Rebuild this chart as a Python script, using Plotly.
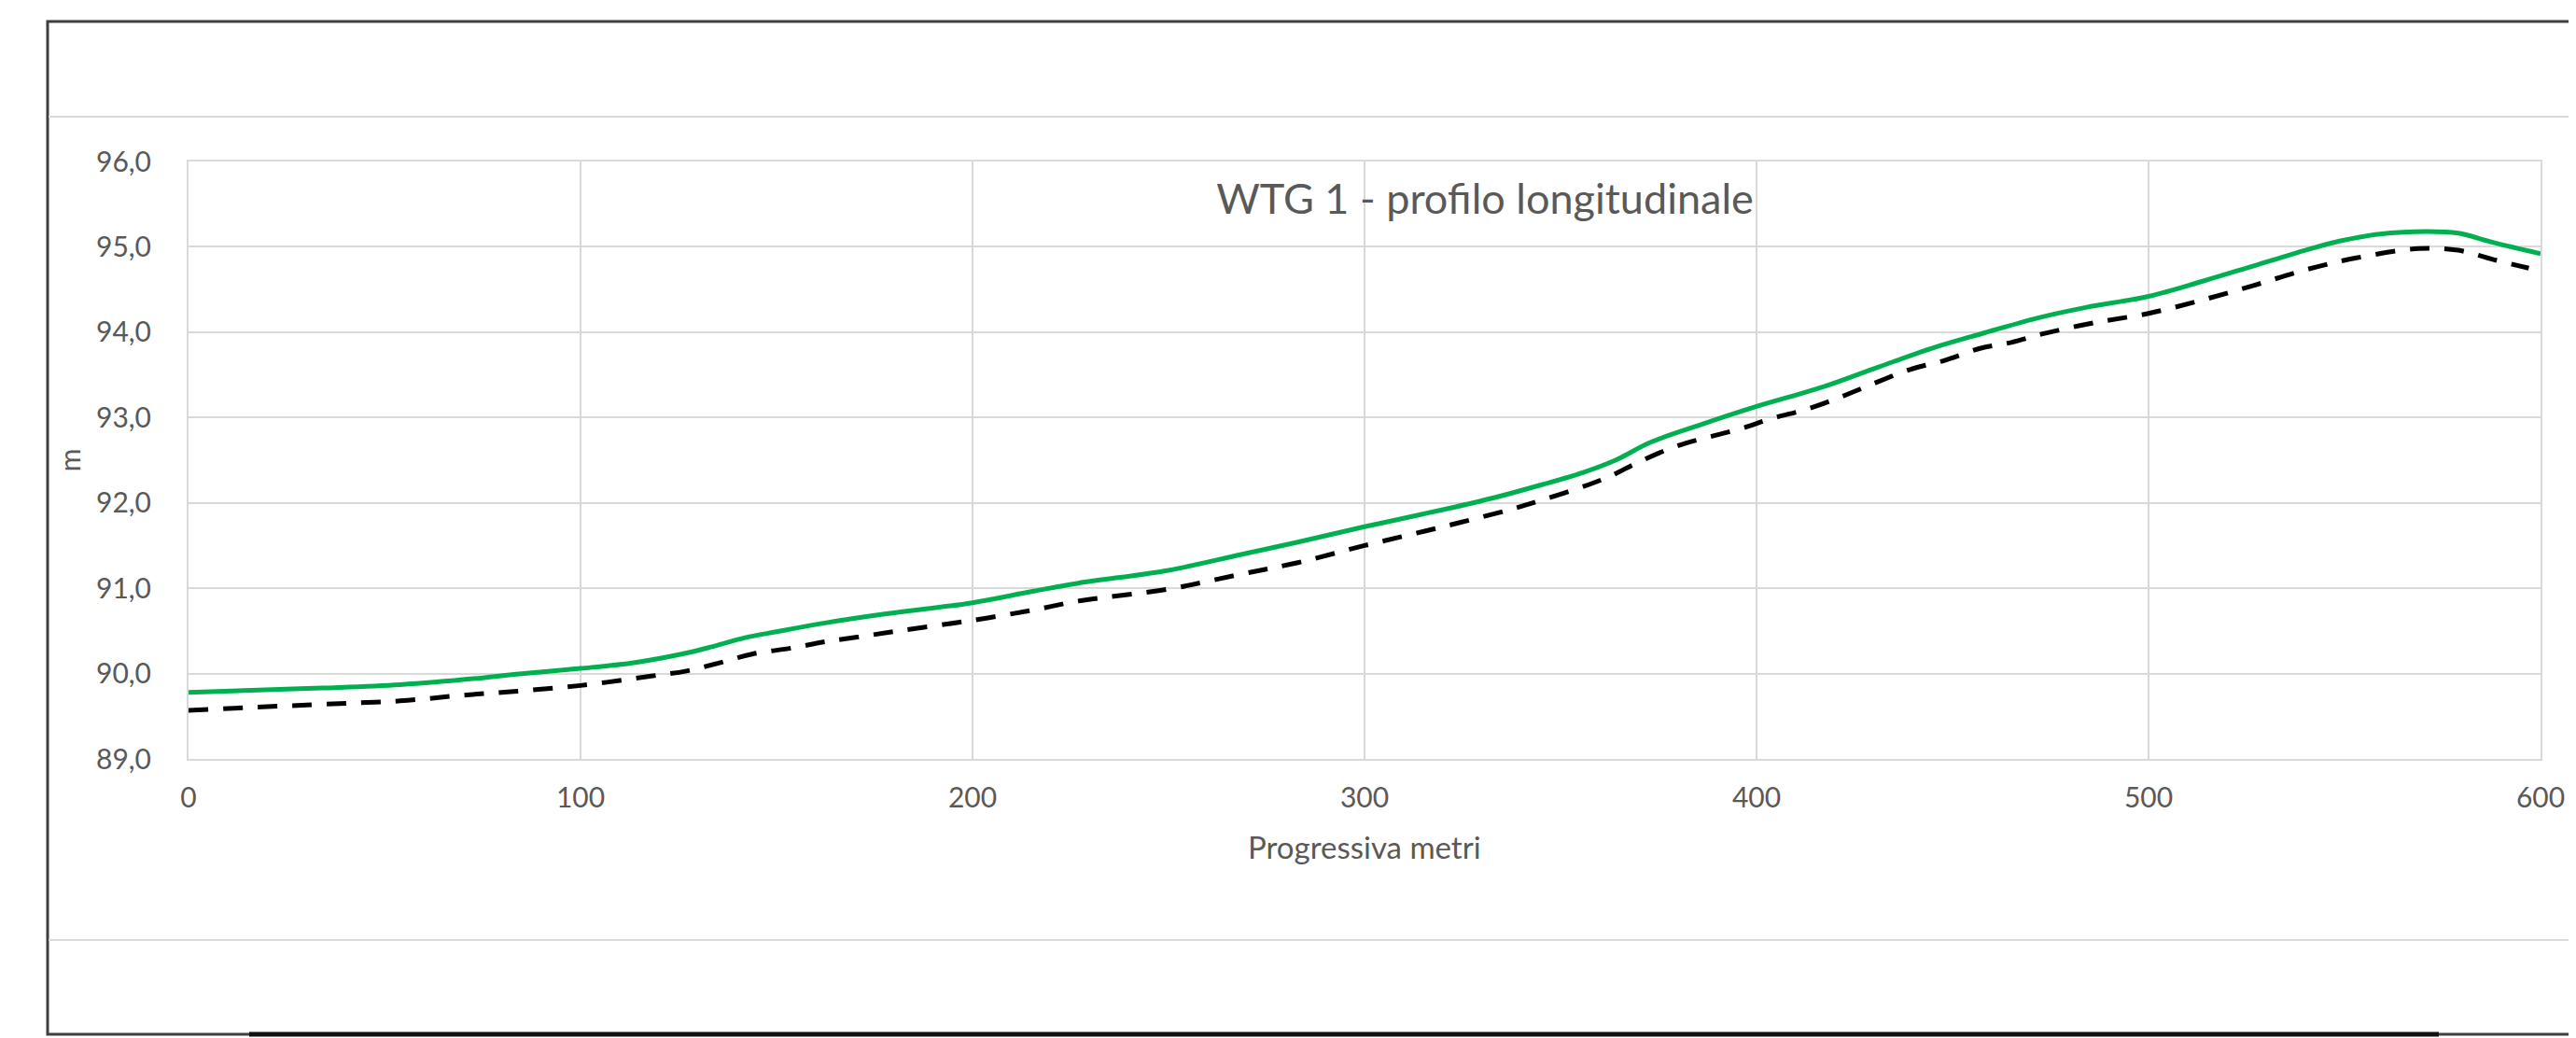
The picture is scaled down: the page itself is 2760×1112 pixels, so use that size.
import plotly.graph_objects as go

# Data
terreno_x = [0, 34, 54, 75, 83, 100, 114, 126, 134, 142, 150, 162, 178, 200, 215, 227,
             250, 268, 283, 300, 320, 333, 345, 356, 364, 373, 386, 400, 417, 431, 446,
             458, 472, 484, 500, 514, 527, 540, 549, 559, 571, 579, 588, 600]
terreno_y = [89.78, 89.83, 89.87, 89.95, 89.99, 90.06, 90.13, 90.23, 90.32, 90.42, 90.49,
             90.59, 90.70, 90.83, 90.96, 91.06, 91.21, 91.39, 91.54, 91.72, 91.92, 92.06,
             92.21, 92.36, 92.50, 92.71, 92.92, 93.13, 93.36, 93.59, 93.83, 93.99, 94.17,
             94.29, 94.42, 94.60, 94.78, 94.96, 95.07, 95.15, 95.18, 95.16, 95.05, 94.92]

progetto_x = [0, 34, 54, 71, 83, 100, 118, 127, 135, 144, 154, 162, 171, 181, 198, 215,
              227, 250, 268, 283, 300, 320, 337, 345, 357, 363, 370, 380, 396, 404, 413,
              422, 430, 439, 448, 457, 465, 473, 486, 500, 514, 527, 540, 553, 569, 579,
              588, 597]
progetto_y = [89.57, 89.64, 89.68, 89.75, 89.79, 89.86, 89.97, 90.03, 90.12, 90.23, 90.30,
              90.37, 90.43, 90.50, 90.61, 90.74, 90.85, 90.99, 91.16, 91.30, 91.50, 91.72,
              91.92, 92.03, 92.21, 92.32, 92.48, 92.67, 92.87, 92.99, 93.10, 93.25, 93.40,
              93.56, 93.67, 93.81, 93.88, 93.98, 94.11, 94.22, 94.38, 94.55, 94.73, 94.87,
              94.98, 94.96, 94.85, 94.75]

x_ticks = [0, 100, 200, 300, 400, 500, 600]
y_ticks = [89, 90, 91, 92, 93, 94, 95, 96]

title_text = "WTG 1 - profilo longitudinale"
x_title = "Progressiva metri"
y_title = "m"

FONT = "Lato"
GREY = "#595959"
GRID = "#d9d9d9"

# page body has an 8px default margin; figure is sized/offset to compensate
W, H = 2752, 1104

fig = go.Figure()
fig.add_trace(go.Scatter(x=terreno_x, y=terreno_y, mode="lines",
                         line=dict(color="#00B050", width=5, shape="spline", smoothing=1.0),
                         showlegend=False, hoverinfo="skip"))
fig.add_trace(go.Scatter(x=progetto_x, y=progetto_y, mode="lines",
                         line=dict(color="#000000", width=5, dash="21px,16px",
                                   shape="spline", smoothing=1.0),
                         showlegend=False, hoverinfo="skip"))

fig.update_layout(
    width=W, height=H,
    margin=dict(l=194, r=31, t=165, b=299),
    paper_bgcolor="white", plot_bgcolor="white",
    separators=",.",
    font=dict(family=FONT, color=GREY, size=30),
    title=dict(text=title_text, xref="container", x=1583 / W, xanchor="center",
               yref="container", y=1 - 205 / H, yanchor="middle",
               font=dict(family=FONT, size=45, color=GREY)),
)
fig.update_xaxes(range=[0, 600], tickvals=x_ticks, showgrid=True, gridcolor=GRID,
                 gridwidth=2, zeroline=False, showline=True, mirror=True,
                 linecolor=GRID, linewidth=2, ticks="", ticklabelstandoff=14,
                 tickfont=dict(family=FONT, size=30, color=GREY))
fig.update_yaxes(range=[89, 96], tickvals=y_ticks, tickformat=".1f", showgrid=True,
                 gridcolor=GRID, gridwidth=2, zeroline=False, showline=True, mirror=True,
                 linecolor=GRID, linewidth=2, ticks="", ticklabelstandoff=32,
                 tickfont=dict(family=FONT, size=30, color=GREY))

# axis titles
fig.add_annotation(text=x_title, xref="paper", yref="paper", x=0.5, y=-(907 - 813) / 640,
                   xanchor="center", yanchor="middle", showarrow=False,
                   font=dict(family=FONT, size=33, color=GREY))
fig.add_annotation(text=y_title, xref="paper", yref="paper", x=(74 - 202) / 2527, y=0.5,
                   xanchor="center", yanchor="middle", showarrow=False, textangle=-90,
                   font=dict(family=FONT, size=30, color=GREY))

# chart frame and separators (pixel offsets from plot-area bottom-left corner)
def pshape(kind, x0, x1, y0, y1, color, width):
    return dict(type=kind, xref="paper", yref="paper", xanchor=0, yanchor=0,
                xsizemode="pixel", ysizemode="pixel", x0=x0, x1=x1, y0=y0, y1=y1,
                line=dict(color=color, width=width), layer="above")

fig.add_shape(**pshape("rect", -151, 2600, -295, 790, "#3f3f3f", 3))
fig.add_shape(**pshape("line", -150, 2560, 688, 688, GRID, 2))
fig.add_shape(**pshape("line", -150, 2560, -194, -194, GRID, 2))
fig.add_shape(**pshape("line", 65, 2411, -295, -295, "#111111", 5))

fig.write_html("out.html")
